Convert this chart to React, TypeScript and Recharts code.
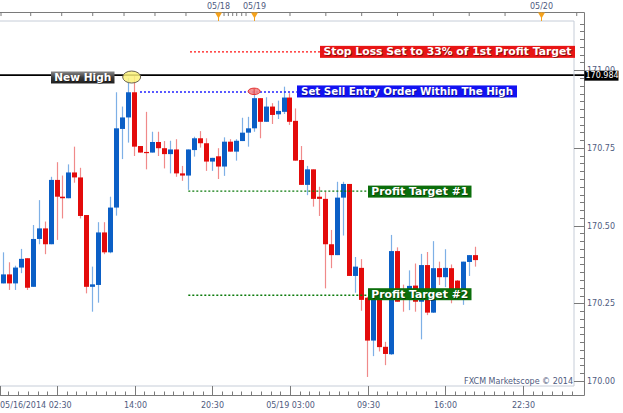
import React from 'react';
import { ComposedChart, Bar, XAxis, YAxis, ReferenceLine, ReferenceDot } from 'recharts';

if (typeof document !== 'undefined') {
  document.body.style.margin = '0';
}

// ---- candle data (30-minute bars, index 0..79) ----
const opens = [
  170.314, 170.343, 170.314, 170.365, 170.395, 170.303, 170.457, 170.491, 170.440, 170.647,
  170.593, 170.588, 170.671, 170.655, 170.534, 170.303, 170.309, 170.478, 170.414, 170.558,
  170.811, 170.848, 170.929, 170.756, 170.737, 170.735, 170.769, 170.749, 170.730, 170.745,
  170.668, 170.661, 170.743, 170.781, 170.765, 170.706, 170.723, 170.690, 170.770, 170.738,
  170.772, 170.799, 170.813, 170.910, 170.834, 170.883, 170.858, 170.866, 170.912, 170.837,
  170.711, 170.631, 170.681, 170.593, 170.586, 170.440, 170.405, 170.590, 170.634, 170.338,
  170.364, 170.268, 170.130, 170.261, 170.110, 170.086, 170.418, 170.273, 170.270, 170.307,
  170.255, 170.373, 170.220, 170.363, 170.334, 170.363, 170.323, 170.293, 170.383, 170.405,
];
const highs = [
  170.414, 170.382, 170.371, 170.425, 170.395, 170.502, 170.582, 170.513, 170.657, 170.704,
  170.661, 170.697, 170.754, 170.686, 170.534, 170.368, 170.511, 170.511, 170.593, 170.929,
  170.883, 170.975, 170.984, 170.756, 170.866, 170.802, 170.802, 170.772, 170.773, 170.778,
  170.692, 170.745, 170.786, 170.804, 170.781, 170.718, 170.749, 170.784, 170.778, 170.778,
  170.847, 170.850, 170.935, 170.910, 170.913, 170.894, 170.902, 170.947, 170.926, 170.877,
  170.756, 170.692, 170.681, 170.625, 170.609, 170.486, 170.641, 170.641, 170.634, 170.399,
  170.392, 170.271, 170.270, 170.268, 170.126, 170.470, 170.430, 170.310, 170.356, 170.378,
  170.409, 170.415, 170.450, 170.384, 170.424, 170.375, 170.325, 170.384, 170.405, 170.432,
];
const lows = [
  170.314, 170.293, 170.293, 170.347, 170.293, 170.303, 170.440, 170.408, 170.440, 170.454,
  170.523, 170.588, 170.638, 170.523, 170.282, 170.223, 170.252, 170.408, 170.411, 170.532,
  170.714, 170.767, 170.724, 170.735, 170.681, 170.735, 170.724, 170.684, 170.668, 170.657,
  170.644, 170.615, 170.722, 170.751, 170.676, 170.676, 170.650, 170.660, 170.738, 170.709,
  170.772, 170.754, 170.802, 170.781, 170.834, 170.827, 170.843, 170.859, 170.824, 170.709,
  170.631, 170.598, 170.561, 170.531, 170.298, 170.363, 170.405, 170.468, 170.338, 170.284,
  170.226, 170.013, 170.080, 170.095, 170.051, 170.084, 170.255, 170.223, 170.228, 170.223,
  170.134, 170.212, 170.219, 170.309, 170.302, 170.250, 170.266, 170.245, 170.338, 170.368,
];
const closes = [
  170.343, 170.314, 170.365, 170.393, 170.300, 170.457, 170.491, 170.440, 170.647, 170.593,
  170.588, 170.671, 170.655, 170.531, 170.303, 170.311, 170.478, 170.414, 170.558, 170.813,
  170.848, 170.929, 170.754, 170.735, 170.735, 170.769, 170.749, 170.730, 170.745, 170.668,
  170.661, 170.745, 170.781, 170.765, 170.706, 170.718, 170.690, 170.770, 170.738, 170.773,
  170.799, 170.813, 170.910, 170.834, 170.883, 170.856, 170.869, 170.912, 170.834, 170.709,
  170.631, 170.681, 170.586, 170.586, 170.440, 170.405, 170.590, 170.634, 170.338, 170.368,
  170.261, 170.130, 170.265, 170.109, 170.087, 170.418, 170.255, 170.261, 170.306, 170.255,
  170.373, 170.220, 170.363, 170.334, 170.364, 170.293, 170.287, 170.384, 170.405, 170.389,
];

// ---- axes ----
const X_MIN = -0.54;
const X_MAX = 95.54;
const X_AXIS_EDGE = 97.297; // right axis line position (index units)
const Y_MIN = 169.9839;
const Y_MAX = 171.1583;
const Y_TOP_AXIS = 171.1856; // top date axis line level
const Y_TOP_TICK = 171.1743; // lower end of the top axis ticks
const Y_BOTTOM_AXIS = 169.9533; // bottom axis line level

const xStartLabel = '05/16/2014 02:30';
const xMajorTicks = [9, 22, 35, 48, 61, 74, 87];
const xMajorLabels = ['', '14:00', '20:30', '05/19 03:00', '09:30', '16:00', '22:30'];
const xMinorStep = 1.625;

const topTicks = [-0.37, 4.6, 9.79, 14.98, 20.22, 25.4, 30.59, 36.96, 37.68, 38.41, 39.08, 39.92, 40.64, 48, 54, 60, 66, 72, 78, 84, 96];
const topMarkerTicks = [36, 42, 90];
const topMarkerLabels = ['05/18', '05/19', '05/20'];

const yMajorTicks = [170, 170.25, 170.5, 170.75, 171];
const yMinorStep = 0.025;
const CURRENT_PRICE = 170.984;

// ---- annotations ----
const stopLossPrice = 171.059;
const stopLossSpan = [31.26, 53.02];
const entryPrice = 170.93;
const entrySpan = [22.89, 49.13];
const target1Price = 170.611;
const target2Price = 170.276;
const targetSpan = [30.98, 61.01];
const newHighBoxX = 7.95;
const yellowMark = { x: 21.5, y: 170.978 };
const redMark = { x: 42.0, y: 170.932 };

const data = opens.map((o, i) => ({
  i,
  o,
  h: highs[i],
  l: lows[i],
  c: closes[i],
  range: [lows[i], highs[i]],
}));

const xMinorTicks: number[] = [];
for (let k = 1; k <= 5; k++) xMinorTicks.push(+(xMajorTicks[0] - k * xMinorStep).toFixed(3));
xMajorTicks.forEach((m) => {
  for (let k = 1; k <= 7; k++) {
    const v = +(m + k * xMinorStep).toFixed(3);
    if (v < X_MAX) xMinorTicks.push(v);
  }
});
const xTicks = [X_MIN, ...xMajorTicks, ...xMinorTicks];

const yTicks: number[] = [];
for (let k = 0; k <= 46; k++) yTicks.push(+(170 + k * yMinorStep).toFixed(3));
yTicks.push(CURRENT_PRICE);

// ---- styles ----
const FONT = 'DejaVu Sans';
const LABEL = '#4f5b80';
const AXIS = '#7a7a7a';
const FRAME = '#c6cdd8';
const ORANGE = '#f5a21c';
const BLUE_BODY = '#0b5fc6';
const BLUE_WICK = '#7eb0e6';
const RED_BODY = '#e30b0b';
const RED_WICK = '#f08a8a';

const Candle = (props: any) => {
  const { x, y, width, height, payload } = props;
  if (payload == null || x == null) return null;
  const cx = Math.round(x + width / 2);
  const { o, h, l, c } = payload;
  const span = h - l;
  const py = (v: number) => (span === 0 ? y : y + ((h - v) / span) * height);
  const up = c >= o;
  const top = py(Math.max(o, c));
  const bot = py(Math.min(o, c));
  const bodyH = Math.max(1.2, bot - top);
  return (
    <g>
      <line x1={cx + 0.5} x2={cx + 0.5} y1={y} y2={y + height} stroke={up ? BLUE_WICK : RED_WICK} strokeWidth={1.2} />
      <rect x={cx - 2} y={top} width={5} height={bodyH} fill={up ? BLUE_BODY : RED_BODY} />
    </g>
  );
};

const BottomTick = (props: any) => {
  const { x, y, payload } = props;
  const v = payload.value;
  const px = Math.round(x) + 0.5;
  if (Math.abs(v - X_MIN) < 1e-6) {
    return (
      <g>
        <line x1={0.5} x2={0.5} y1={y} y2={y + 9} stroke={AXIS} />
        <text x={0} y={y + 21.5} fontSize={8} fontFamily={FONT} fill={LABEL} textAnchor="start">{xStartLabel}</text>
      </g>
    );
  }
  const m = xMajorTicks.indexOf(v);
  if (m >= 0) {
    return (
      <g>
        <line x1={px} x2={px} y1={y} y2={y + 9} stroke={AXIS} />
        {xMajorLabels[m] && (
          <text x={px} y={y + 21.5} fontSize={8} fontFamily={FONT} fill={LABEL} textAnchor="middle">{xMajorLabels[m]}</text>
        )}
      </g>
    );
  }
  return <line x1={px} x2={px} y1={y + 5.5} y2={y + 9} stroke={AXIS} />;
};

const TopMarker = (label: string) => (props: any) => {
  const { cx, cy } = props;
  if (cx == null || cy == null) return null;
  const px = Math.round(cx) + 0.5;
  return (
    <g>
      <line x1={px} x2={px} y1={cy} y2={cy + 8.5} stroke={ORANGE} />
      <polygon points={`${px - 3.5},${cy} ${px + 3.5},${cy} ${px},${cy + 6}`} fill={ORANGE} />
      <text x={px} y={cy - 3.8} fontSize={8} fontFamily={FONT} fill={LABEL} textAnchor="middle">{label}</text>
    </g>
  );
};

const RightTick = (props: any) => {
  const { x, y, payload } = props;
  const v = payload.value;
  if (Math.abs(v - CURRENT_PRICE) < 1e-6) {
    return (
      <g>
        <rect x={x + 10.5} y={y - 4.5} width={34} height={10} fill="#000" />
        <text x={x + 11.5} y={y + 3.3} fontSize={8} fontFamily={FONT} fill="#fff">{v.toFixed(3)}</text>
      </g>
    );
  }
  const py = Math.round(y) + 0.5;
  const major = yMajorTicks.some((t) => Math.abs(t - v) < 1e-6);
  return (
    <g>
      <line x1={x + (major ? 0 : 6)} x2={x + 10} y1={py} y2={py} stroke={AXIS} />
      {major && (
        <text x={x + 13} y={y + 3} fontSize={8} fontFamily={FONT} fill={LABEL}>{v.toFixed(2)}</text>
      )}
    </g>
  );
};

const makeBox = (text: string, fill: string, width: number, textWidth: number, offsetY: number, gradient?: boolean) =>
  (props: any) => {
    const { cx, cy } = props;
    if (cx == null || cy == null) return null;
    const top = cy + offsetY;
    const left = Math.round(cx);
    const tx = left + (width - textWidth) / 2;
    return (
      <g>
        {gradient && (
          <defs>
            <linearGradient id="nhGrad" x1="0" y1="0" x2="0" y2="1">
              <stop offset="0" stopColor="#8a8a8a" />
              <stop offset="0.5" stopColor="#3c3c3c" />
              <stop offset="1" stopColor="#1e1e1e" />
            </linearGradient>
          </defs>
        )}
        <rect x={left} y={top} width={width} height={12} fill={gradient ? 'url(#nhGrad)' : fill} />
        <text x={tx + 0.8} y={top + 10.3} fontSize={11} fontWeight="bold" fontFamily={FONT} fill="rgba(0,0,0,0.45)" textLength={textWidth} lengthAdjust="spacingAndGlyphs">{text}</text>
        <text x={tx} y={top + 9.6} fontSize={11} fontWeight="bold" fontFamily={FONT} fill="#fff" textLength={textWidth} lengthAdjust="spacingAndGlyphs">{text}</text>
      </g>
    );
  };

const StopLossBox = makeBox('Stop Loss Set to 33% of 1st Profit Target', '#e81515', 255, 248, -6);
const EntryBox = makeBox('Set Sell Entry Order Within The High', '#1212f2', 220, 212, -6.5);
const Target1Box = makeBox('Profit Target #1', '#0b6e0b', 103.5, 97, -5.5);
const Target2Box = makeBox('Profit Target #2', '#0b6e0b', 103.5, 97, -7);
const NewHighBox = makeBox('New High', '#333', 63.5, 57, -3.7, true);

const YellowEllipse = (props: any) => {
  const { cx, cy } = props;
  return <ellipse cx={cx} cy={cy} rx={9} ry={6} fill="#fbf27a" fillOpacity={0.85} stroke="#6b6450" strokeWidth={1} />;
};
const RedEllipse = (props: any) => {
  const { cx, cy } = props;
  return (
    <g>
      <ellipse cx={cx} cy={cy} rx={6} ry={3.2} fill="#f28a8a" fillOpacity={0.9} stroke="#e23030" strokeWidth={1} />
      <line x1={cx} x2={cx} y1={cy - 3} y2={cy + 3} stroke="#e23030" strokeWidth={0.8} />
    </g>
  );
};
const Watermark = (props: any) => {
  const { cx, cy } = props;
  return (
    <text x={cx - 1} y={cy - 2.5} fontSize={8} fontFamily={FONT} fill={LABEL} textAnchor="end">
      FXCM Marketscope © 2014
    </text>
  );
};

export default function App() {
  return (
    <div style={{ width: 623, height: 413, background: '#fff' }}>
      <ComposedChart width={623} height={413} data={data} margin={{ top: 21, right: 0, bottom: 0, left: 0 }}>
        <XAxis
          dataKey="i"
          type="number"
          domain={[X_MIN, X_MAX]}
          allowDataOverflow
          ticks={xTicks}
          interval={0}
          tickSize={0}
          tickMargin={0}
          tickLine={false}
          height={27}
          axisLine={{ stroke: FRAME }}
          tick={<BottomTick />}
        />
        <YAxis
          orientation="right"
          type="number"
          domain={[Y_MIN, Y_MAX]}
          allowDataOverflow
          ticks={yTicks}
          interval={0}
          tickSize={0}
          tickMargin={0}
          tickLine={false}
          width={49}
          axisLine={{ stroke: FRAME }}
          tick={<RightTick />}
        />

        {/* frame */}
        <ReferenceLine y={Y_MAX} stroke={FRAME} ifOverflow="visible" />
        <ReferenceLine segment={[{ x: X_MIN, y: Y_TOP_AXIS }, { x: X_AXIS_EDGE, y: Y_TOP_AXIS }]} stroke={AXIS} ifOverflow="visible" />
        <ReferenceLine segment={[{ x: X_MIN, y: Y_BOTTOM_AXIS }, { x: X_AXIS_EDGE, y: Y_BOTTOM_AXIS }]} stroke={AXIS} ifOverflow="visible" />
        <ReferenceLine segment={[{ x: X_AXIS_EDGE, y: Y_TOP_AXIS }, { x: X_AXIS_EDGE, y: Y_BOTTOM_AXIS }]} stroke={AXIS} ifOverflow="visible" />

        {/* top date axis */}
        {topTicks.map((t) => (
          <ReferenceLine key={`tt${t}`} segment={[{ x: t, y: Y_TOP_AXIS }, { x: t, y: Y_TOP_TICK }]} stroke={AXIS} ifOverflow="visible" />
        ))}
        {topMarkerTicks.map((t, k) => {
          const Shape = TopMarker(topMarkerLabels[k]);
          return <ReferenceDot key={`tm${t}`} x={t} y={Y_TOP_AXIS} ifOverflow="visible" shape={<Shape />} />;
        })}

        <Bar dataKey="range" barSize={5} shape={<Candle />} isAnimationActive={false} />

        {/* annotations */}
        <ReferenceLine segment={[{ x: X_MIN, y: CURRENT_PRICE }, { x: X_AXIS_EDGE, y: CURRENT_PRICE }]} stroke="#000" strokeWidth={1.6} ifOverflow="visible" />
        <ReferenceLine segment={[{ x: stopLossSpan[0], y: stopLossPrice }, { x: stopLossSpan[1], y: stopLossPrice }]} stroke="#ff1010" strokeWidth={1.4} strokeDasharray="2 2" ifOverflow="visible" />
        <ReferenceLine segment={[{ x: entrySpan[0], y: entryPrice }, { x: entrySpan[1], y: entryPrice }]} stroke="#2020ff" strokeWidth={1.4} strokeDasharray="2 2" ifOverflow="visible" />
        <ReferenceLine segment={[{ x: targetSpan[0], y: target1Price }, { x: targetSpan[1], y: target1Price }]} stroke="#0b7a0b" strokeWidth={1.4} strokeDasharray="2 2" ifOverflow="visible" />
        <ReferenceLine segment={[{ x: targetSpan[0], y: target2Price }, { x: targetSpan[1], y: target2Price }]} stroke="#0b7a0b" strokeWidth={1.4} strokeDasharray="2 2" ifOverflow="visible" />

        <ReferenceDot x={yellowMark.x} y={yellowMark.y} ifOverflow="visible" shape={<YellowEllipse />} />
        <ReferenceDot x={redMark.x} y={redMark.y} ifOverflow="visible" shape={<RedEllipse />} />

        <ReferenceDot x={stopLossSpan[1]} y={stopLossPrice} ifOverflow="visible" shape={<StopLossBox />} />
        <ReferenceDot x={entrySpan[1]} y={entryPrice} ifOverflow="visible" shape={<EntryBox />} />
        <ReferenceDot x={targetSpan[1]} y={target1Price} ifOverflow="visible" shape={<Target1Box />} />
        <ReferenceDot x={targetSpan[1]} y={target2Price} ifOverflow="visible" shape={<Target2Box />} />
        <ReferenceDot x={newHighBoxX} y={CURRENT_PRICE} ifOverflow="visible" shape={<NewHighBox />} />
        <ReferenceDot x={X_MAX} y={Y_MIN} ifOverflow="visible" shape={<Watermark />} />
      </ComposedChart>
    </div>
  );
}
